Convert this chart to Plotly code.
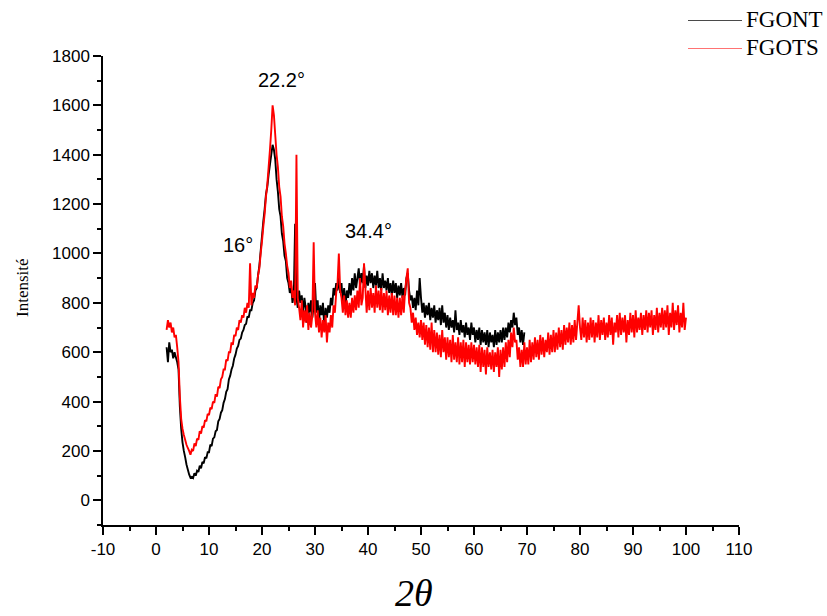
import numpy as np
import plotly.graph_objects as go

# 2-theta sampling grid of the diffractograms (degrees)
TWO_THETA_START = 2.0
TWO_THETA_STEP = 0.25

# FGONT intensities, 2.0 .. 69.5 deg
fgont = [
    620, 560, 640, 600, 610, 575, 600, 580, 560, 530, 380, 290,
    235, 200, 175, 145, 125, 105, 92, 95, 90, 110, 100, 120, 115, 140, 130, 155, 150, 175, 170, 195,
    195, 225, 220, 250, 255, 280, 285, 320, 330, 355, 365, 395, 410, 440, 450, 490, 505, 530, 545, 575,
    590, 615, 625, 650, 655, 680, 690, 710, 715, 745, 740, 770, 770, 800, 810, 850, 860, 910, 950, 1010,
    1070, 1130, 1180, 1240, 1270, 1320, 1360, 1400, 1440, 1420, 1380, 1300, 1250, 1180, 1150, 1080, 1050, 990, 970, 900,
    880, 840, 870, 800, 830, 1120, 820, 780, 850, 800, 830, 760, 820, 780, 720, 800, 760, 810, 740, 790,
    880, 760, 810, 720, 790, 750, 800, 700, 780, 740, 790, 760, 820, 790, 860, 830, 880, 850, 900, 840,
    880, 800, 860, 780, 850, 820, 880, 830, 900, 850, 920, 860, 900, 940, 870, 920, 880, 950, 860, 910,
    870, 930, 880, 920, 860, 910, 870, 930, 860, 900, 850, 920, 860, 890, 850, 900, 840, 880, 830, 890,
    840, 880, 820, 870, 830, 880, 820, 860, 830, 900, 920, 850, 810, 830, 780, 820, 770, 850, 790, 900,
    820, 760, 800, 740, 790, 750, 800, 730, 780, 740, 790, 720, 770, 730, 780, 710, 790, 720, 760, 700,
    750, 690, 740, 700, 730, 680, 770, 690, 720, 670, 730, 680, 710, 660, 720, 670, 700, 650, 720, 670,
    700, 640, 690, 650, 700, 630, 690, 640, 680, 630, 690, 620, 680, 640, 670, 620, 690, 630, 680, 640,
    690, 640, 700, 650, 700, 660, 720, 680, 730, 700, 760, 710, 740, 670, 700, 640, 690, 630, 680,
]

# FGOTS intensities, 2.0 .. 100.0 deg
fgots = [
    690, 730, 700, 720, 680, 700, 660, 670, 620, 560, 420, 330,
    290, 265, 245, 225, 212, 200, 185, 205, 200, 230, 220, 250, 245, 280, 270, 300, 295, 325, 320, 350,
    345, 375, 370, 400, 395, 430, 420, 460, 455, 490, 500, 530, 530, 570, 565, 600, 600, 640, 630, 670,
    665, 700, 690, 730, 720, 750, 740, 780, 760, 800, 780, 960, 790, 840, 820, 870, 860, 910, 940, 1000,
    1050, 1110, 1160, 1230, 1280, 1350, 1420, 1500, 1600, 1560, 1480, 1400, 1350, 1270, 1230, 1150, 1110, 1040, 1000, 950,
    920, 860, 890, 820, 850, 790, 1400, 820, 780, 730, 810, 700, 770, 720, 790, 690, 760, 700, 750, 1045,
    760, 700, 770, 680, 740, 660, 730, 680, 750, 640, 720, 680, 750, 700, 790, 760, 840, 880, 1000, 850,
    820, 760, 830, 750, 810, 740, 800, 740, 820, 760, 830, 770, 850, 780, 900, 790, 820, 960, 860, 760,
    850, 770, 860, 780, 840, 760, 870, 780, 850, 770, 860, 760, 840, 770, 850, 750, 830, 760, 840, 750,
    830, 750, 820, 740, 820, 750, 830, 760, 850, 900, 940, 800, 780, 720, 760, 690, 740, 670, 720, 660,
    730, 650, 720, 630, 710, 620, 700, 610, 720, 600, 690, 600, 680, 590, 670, 580, 690, 600, 660, 570,
    660, 580, 650, 560, 670, 570, 640, 560, 660, 550, 640, 560, 650, 540, 640, 560, 630, 550, 640, 560,
    630, 550, 620, 540, 630, 520, 620, 540, 610, 510, 620, 540, 600, 530, 610, 520, 600, 540, 620, 500,
    610, 530, 620, 540, 640, 560, 650, 580, 680, 620, 700, 640, 650, 570, 620, 540, 610, 540, 640, 550,
    620, 550, 650, 560, 640, 570, 660, 580, 650, 570, 670, 590, 660, 580, 650, 600, 680, 590, 670, 600,
    690, 600, 680, 610, 700, 620, 690, 610, 710, 630, 700, 640, 720, 630, 710, 640, 730, 650, 720, 790,
    700, 650, 740, 660, 730, 640, 720, 650, 740, 660, 730, 640, 720, 660, 750, 650, 730, 670, 740, 650,
    720, 660, 750, 670, 740, 630, 720, 680, 750, 660, 760, 670, 740, 680, 750, 640, 730, 670, 760, 680,
    750, 660, 770, 680, 740, 690, 760, 670, 750, 690, 770, 680, 760, 700, 770, 670, 750, 690, 780, 680,
    760, 700, 780, 690, 770, 700, 790, 670, 760, 700, 800, 690, 770, 710, 790, 680, 760, 700, 800, 690,
    740,
]

series_names = ["FGONT", "FGOTS"]
series_colors = ["#000000", "#ff0000"]
legend_colors = ["#4a4a4a", "#ff7373"]

peak_labels = ["22.2°", "16°", "34.4°"]
peak_label_x = [23.6, 15.5, 40.0]
peak_label_y = [1702, 1034, 1091]

x_ticks = list(range(-10, 111, 10))
y_ticks = list(range(0, 1801, 200))

x_fgont = TWO_THETA_START + TWO_THETA_STEP * np.arange(len(fgont))
x_fgots = TWO_THETA_START + TWO_THETA_STEP * np.arange(len(fgots))

W, H = 827, 616
L, R, T, B = 103, 88, 56, 91
PW, PH = W - L - R, H - T - B


def px(xp):
    return (xp - L) / PW


def py(yp):
    return (H - B - yp) / PH


fig = go.Figure()
for xs, ys, name, col in [(x_fgont, fgont, series_names[0], series_colors[0]),
                          (x_fgots, fgots, series_names[1], series_colors[1])]:
    fig.add_trace(go.Scatter(x=xs, y=ys, mode="lines", name=name,
                             line=dict(color=col, width=1.9, simplify=False),
                             showlegend=False, hoverinfo="skip"))

annotations = []
for t, xv, yv in zip(peak_labels, peak_label_x, peak_label_y):
    annotations.append(dict(x=xv, y=yv, xref="x", yref="y", text=t, showarrow=False,
                            font=dict(family="Liberation Sans, Arial", size=20, color="black"),
                            xanchor="center", yanchor="middle"))

# manual legend
shapes = []
legend_y_px = [20.5, 48.5]
for i in range(2):
    shapes.append(dict(type="line", xref="paper", yref="paper",
                       x0=px(688), x1=px(742), y0=py(legend_y_px[i]), y1=py(legend_y_px[i]),
                       line=dict(color=legend_colors[i], width=1)))
    annotations.append(dict(x=px(744), y=py(legend_y_px[i] - 1), xref="paper", yref="paper",
                            text=series_names[i], showarrow=False, xanchor="left", yanchor="middle",
                            font=dict(family="Liberation Serif, Times New Roman", size=23, color="black")))

# axis titles
annotations.append(dict(x=px(414), y=py(593), xref="paper", yref="paper", text="<i>2θ</i>",
                        showarrow=False, xanchor="center", yanchor="middle",
                        font=dict(family="Liberation Serif, Times New Roman", size=38, color="black")))
annotations.append(dict(x=px(22), y=py(288), xref="paper", yref="paper", text="Intensité",
                        showarrow=False, xanchor="center", yanchor="middle", textangle=-90,
                        font=dict(family="Liberation Serif, Times New Roman", size=17, color="black")))

axis_common = dict(showgrid=False, zeroline=False, showline=True, linecolor="black", linewidth=1.5,
                   ticks="outside", ticklen=8, tickwidth=1.5, tickcolor="black",
                   tickfont=dict(family="Liberation Sans, Arial", size=17, color="black"))

fig.update_layout(
    width=W, height=H,
    margin=dict(l=L, r=R, t=T, b=B, pad=0),
    paper_bgcolor="white", plot_bgcolor="white",
    annotations=annotations, shapes=shapes,
    xaxis=dict(range=[-10, 110], tickvals=x_ticks, ticktext=[str(v) for v in x_ticks],
               minor=dict(dtick=5, tick0=0, ticks="outside", ticklen=4, tickwidth=1.5, tickcolor="black"),
               **axis_common),
    yaxis=dict(range=[-100, 1800], tickvals=y_ticks, ticktext=[str(v) for v in y_ticks],
               minor=dict(dtick=100, tick0=0, ticks="outside", ticklen=4, tickwidth=1.5, tickcolor="black"),
               **axis_common),
)

fig.write_html("out.html", config={"displayModeBar": False},
               post_script="document.body.style.margin='0';document.body.style.overflow='hidden';")
